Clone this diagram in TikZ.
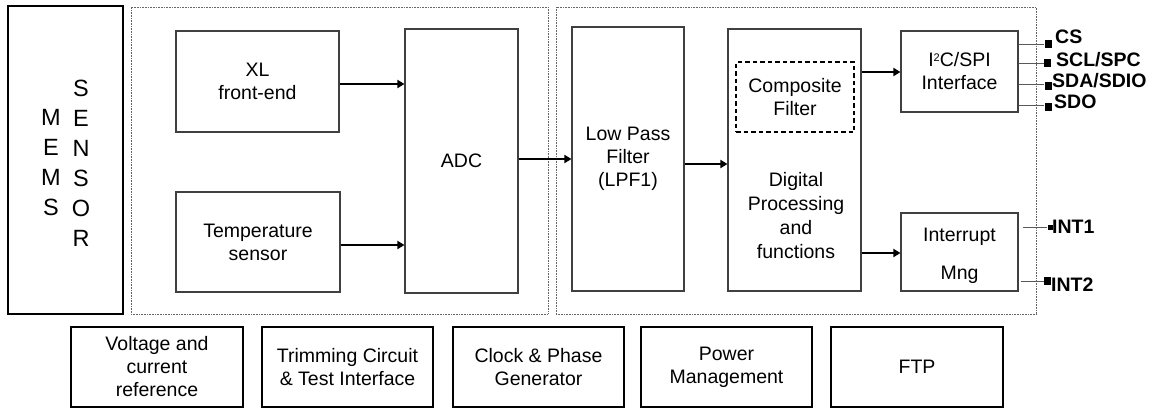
\documentclass[tikz,border=0pt]{standalone}
\usepackage{fontspec}
\setmainfont{Liberation Sans}
\usetikzlibrary{arrows.meta}
\newcommand{\fsz}{\fontsize{19.5}{23}\selectfont}
\newcommand{\supii}{{\fontsize{11}{11}\selectfont\raisebox{5.5pt}{2}}}
\begin{document}
\begin{tikzpicture}[x=1pt,y=-1pt,
  blk/.style={draw=black!75, line width=1.1pt, inner sep=0pt, align=center, font=\fsz},
  bot/.style={draw=black, line width=1.8pt, inner sep=0pt, align=center, font=\fsz, minimum height=80pt, minimum width=171pt},
  dotbox/.style={draw=black!60, line width=0.8pt, dash pattern=on 0.8pt off 0.8pt, inner sep=0pt},
  arr/.style={line width=2.8pt, -{Triangle[length=7pt,width=8pt]}},
  pinln/.style={draw=black!65, line width=0.9pt},
  pad/.style={fill=black, inner sep=0pt, minimum width=7pt, minimum height=8pt},
  pinlbl/.style={font=\fontsize{19.5}{23}\bfseries\selectfont, inner sep=0pt, anchor=base west}
]
\useasboundingbox (0,0) rectangle (1164,408);
% MEMS sensor
\node[draw=black, line width=2.6pt, inner sep=0pt, minimum width=115pt, minimum height=308pt] (mems) at (65.5,160) {};
\node[font=\fontsize{23.5}{30}\selectfont, align=center, inner sep=0pt] (memsa) at (51,163) {M\\E\\M\\S};
\node[font=\fontsize{23.5}{30}\selectfont, align=center, inner sep=0pt] (memsb) at (81,163) {S\\E\\N\\S\\O\\R};
% dotted groups
\node[dotbox, minimum width=417pt, minimum height=307pt] (g1) at (339.5,160.5) {};
\node[dotbox, minimum width=480pt, minimum height=307pt] (g2) at (796,160.5) {};
% analog blocks
\node[blk, minimum width=163pt, minimum height=101pt] (xl) at (257.5,81.5) {XL\\front-end};
\node[blk, minimum width=164pt, minimum height=100pt] (temp) at (258,242) {Temperature\\sensor};
\node[blk, minimum width=113pt, minimum height=264pt] (adc) at (461.5,161) {ADC};
% digital blocks
\node[blk, minimum width=112pt, minimum height=264pt] (lpf) at (628,159) {Low Pass\\Filter\\(LPF1)};
\node[blk, minimum width=133pt, minimum height=262pt] (dp) at (794.5,160) {};
\node[blk, draw=black, line width=1.4pt, dash pattern=on 4.5pt off 3pt, minimum width=118pt, minimum height=70pt] (comp) at (795,97) {Composite\\Filter};
\node[align=center, font=\fontsize{19.5}{24}\selectfont, inner sep=0pt] (dptxt) at (796,216) {Digital\\Processing\\and\\functions};
\node[blk, minimum width=117pt, minimum height=81pt] (i2c) at (959.5,71.5) {I\supii C/SPI\\Interface};
\node[blk, minimum width=117pt, minimum height=78pt] (int) at (959.5,252) {};
\node[align=center, font=\fsz, inner sep=0pt] (inttxt) at (959.5,256) {Interrupt\\[15pt]Mng};
% arrows
\draw[arr] (xl.east |- 0,84) -- (adc.west |- 0,84);
\draw[arr] (temp.east |- 0,245) -- (adc.west |- 0,245);
\draw[arr] (adc.east |- 0,159) -- (lpf.west |- 0,159);
\draw[arr] (lpf.east |- 0,164) -- (dp.west |- 0,164);
\draw[arr] (dp.east |- 0,72) -- (i2c.west |- 0,72);
\draw[arr] (dp.east |- 0,253) -- (int.west |- 0,253);
% pins
\node[pad] (pcs) at (1048,44) {};
\node[pad] (pscl) at (1047.5,63) {};
\node[pad] (psda) at (1048,85.5) {};
\node[pad] (psdo) at (1048,106.5) {};
\node[pad, minimum width=5pt, minimum height=5pt] (pint1) at (1050,227.5) {};
\node[pad] (pint2) at (1047.5,280.5) {};
\draw[pinln] (i2c.east |- 0,44) -- (pcs.west);
\draw[pinln] (i2c.east |- 0,63) -- (pscl.west);
\draw[pinln] (i2c.east |- 0,84.5) -- (psda.west |- 0,84.5);
\draw[pinln] (i2c.east |- 0,105.5) -- (psdo.west |- 0,105.5);
\draw[pinln] ([xshift=4pt]int.east |- 0,227.5) -- (pint1.west);
\draw[pinln] ([xshift=2pt]int.east |- 0,281) -- (pint2.west |- 0,281);
\node[pinlbl] (lcs) at (1055,43) {CS};
\node[pinlbl] (lscl) at (1056,66.7) {SCL/SPC};
\node[pinlbl] (lsda) at (1052,87.3) {SDA/SDIO};
\node[pinlbl] (lsdo) at (1054,108.3) {SDO};
\node[pinlbl] (lint1) at (1052,233.3) {INT1};
\node[pinlbl] (lint2) at (1051,291.7) {INT2};
% bottom blocks
\node[bot, minimum width=172pt] (vref) at (157,367) {Voltage and\\current\\reference};
\node[bot] (trim) at (347.5,367) {Trimming Circuit\\\& Test Interface};
\node[bot] (clk) at (538.5,367) {Clock \& Phase\\Generator};
\node[bot] (pwr) at (726.5,367) {Power\\Management};
\node[bot, minimum width=172pt] (ftp) at (917,367) {FTP};
\end{tikzpicture}
\end{document}
